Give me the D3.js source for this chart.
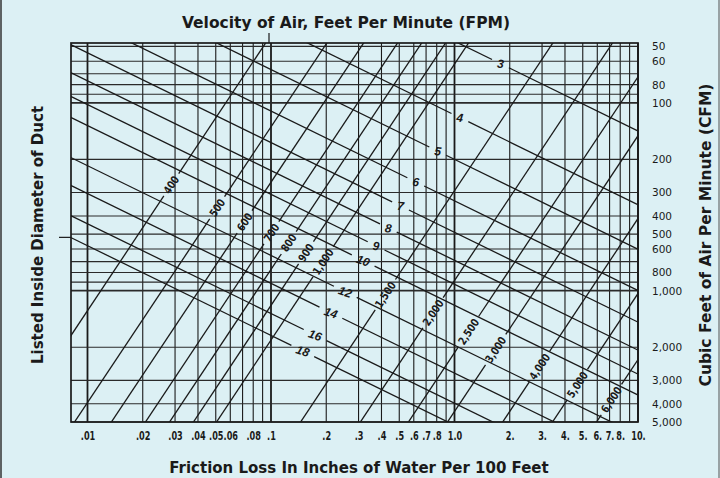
<!DOCTYPE html>
<html>
<head>
<meta charset="utf-8">
<script src="https://cdn.jsdelivr.net/npm/d3@7"></script>
<style>
  body { margin: 0; background: #dcf0f4; }
  svg { display: block; }
</style>
</head>
<body>
<svg id="chart" width="720" height="478"></svg>
<script>
// friction loss (in. of water / 100 ft) along x, airflow (CFM) along y, both log
let frictionGrid = [0.01, 0.02, 0.03, 0.04, 0.05, 0.06, 0.07, 0.08, 0.09,
                    0.1, 0.2, 0.3, 0.4, 0.5, 0.6, 0.7, 0.8, 0.9,
                    1, 2, 3, 4, 5, 6, 7, 8, 9, 10];
let frictionLabelValues = [0.01, 0.02, 0.03, 0.04, 0.05, 0.06, 0.08, 0.1, 0.2, 0.3,
                           0.4, 0.5, 0.6, 0.7, 0.8, 1, 2, 3, 4, 5, 6, 7, 8, 10];
let frictionLabelText = [".01", ".02", ".03", ".04", ".05", ".06", ".08", ".1", ".2", ".3",
                         ".4", ".5", ".6", ".7", ".8", "1.0", "2.", "3.", "4.", "5.", "6.", "7.", "8.", "10."];

let cfmGrid = [50, 60, 70, 80, 90, 100, 200, 300, 400, 500, 600, 700, 800, 900, 1000,
               2000, 3000, 4000, 5000];
let cfmLabelValues = [50, 60, 80, 100, 200, 300, 400, 500, 600, 800, 1000, 2000, 3000, 4000, 5000];

// duct diameter lines: CFM read where each crosses friction .01 and 10.
let ductDiameters = [3, 4, 5, 6, 7, 8, 9, 10, 12, 14, 16, 18];
let ductCfmAtLow  = [5.2, 12.8, 22.1, 36.8, 54.1, 76.3, 102, 132, 216, 304, 440, 576];
let ductCfmAtHigh = [141, 349, 601, 998, 1470, 2071, 2780, 3595, 5862, 8264, 11934, 15631];
let ductLabelFriction = [1.78, 1.07, 0.81, 0.615, 0.508, 0.436, 0.374, 0.318, 0.254, 0.212, 0.174, 0.149];

// velocity lines (FPM): friction read where each crosses 5,000 and 50 CFM
let velocities = [400, 500, 600, 700, 800, 900, 1000, 1500, 2000, 2500, 3000, 4000, 5000, 6000];
let velFrictionAt5000 = [0.00395, 0.0085, 0.0135, 0.0207, 0.028, 0.0378, 0.0505,
                         0.145, 0.307, 0.561, 0.916, 1.83, 3.42, 5.94];
let velFrictionAt50 = [0.0909, 0.196, 0.311, 0.476, 0.644, 0.869, 1.16,
                       3.34, 7.06, 12.9, 21.1, 42.1, 78.7, 137];
let velLabelCfm = [273, 362, 430, 491, 556, 628, 701, 1050, 1310, 1653, 2060, 2537, 3162, 3800];

let ink = "#1a1a1a";
let svg = d3.select("#chart");

let x = d3.scaleLog().domain([0.00813, 10]).range([71, 638]);
let y = d3.scaleLog().domain([48, 5000]).range([43, 422]);
let [x0, x1] = x.range(), [y0, y1] = y.range();

svg.append("rect").attr("width", 720).attr("height", 478).attr("fill", "#dcf0f4");

// edges of the scanned page
svg.append("line").attr("x1", 1).attr("x2", 1).attr("y1", 0).attr("y2", 478)
    .attr("stroke", "#333").attr("stroke-width", 1.5);
svg.append("line").attr("x1", 719).attr("x2", 719).attr("y1", 0).attr("y2", 478)
    .attr("stroke", "#555").attr("stroke-width", 1);

svg.append("defs").append("clipPath").attr("id", "plot")
    .append("rect").attr("x", x0).attr("y", y0).attr("width", x1 - x0).attr("height", y1 - y0);

function isDecade(d) {
    let l = Math.log10(d);
    return Math.abs(l - Math.round(l)) < 1e-6;
}

// grid
let grid = svg.append("g");
grid.selectAll(".vg").data(frictionGrid).join("line")
    .attr("x1", d => x(d)).attr("x2", d => x(d))
    .attr("y1", y0).attr("y2", y1)
    .attr("stroke", ink)
    .attr("stroke-width", d => isDecade(d) ? 1.8 : 1.1);

grid.selectAll(".hg").data(cfmGrid).join("line")
    .attr("x1", x0).attr("x2", x1)
    .attr("y1", d => y(d)).attr("y2", d => y(d))
    .attr("stroke", "#2a2a2a")
    .attr("stroke-width", d => (d === 100 || d === 1000) ? 1.8 : 1.1);

svg.append("rect")
    .attr("x", x0).attr("y", y0).attr("width", x1 - x0).attr("height", y1 - y0)
    .attr("fill", "none").attr("stroke", ink).attr("stroke-width", 1.7);

// small leader marks at the title and left side
svg.append("line").attr("x1", x(0.1) - 2).attr("x2", x(0.1) - 2).attr("y1", y0 - 10).attr("y2", y0)
    .attr("stroke", ink).attr("stroke-width", 1.2);
svg.append("line").attr("x1", x0 - 12).attr("x2", x0).attr("y1", y(520)).attr("y2", y(520))
    .attr("stroke", ink).attr("stroke-width", 1.2);

let diag = svg.append("g").attr("clip-path", "url(#plot)");
let labels = svg.append("g");

// draws an extended straight line through p0,p1 with a gap around the label point
function gappedLine(p0, p1, pl, half) {
    let dx = p1[0] - p0[0], dy = p1[1] - p0[1], L = Math.hypot(dx, dy);
    let ux = dx / L, uy = dy / L;
    let a = [p0[0] - ux * 2000, p0[1] - uy * 2000];
    let b = [p1[0] + ux * 2000, p1[1] + uy * 2000];
    let g1 = [pl[0] - ux * half, pl[1] - uy * half];
    let g2 = [pl[0] + ux * half, pl[1] + uy * half];
    [[a, g1], [g2, b]].forEach(s => {
        diag.append("line")
            .attr("x1", s[0][0]).attr("y1", s[0][1])
            .attr("x2", s[1][0]).attr("y2", s[1][1])
            .attr("stroke", ink).attr("stroke-width", 1.3);
    });
}

ductDiameters.forEach((d, i) => {
    let p0 = [x(0.01), y(ductCfmAtLow[i])];
    let p1 = [x(10), y(ductCfmAtHigh[i])];
    let lx = x(ductLabelFriction[i]);
    let ly = p0[1] + (p1[1] - p0[1]) * (lx - p0[0]) / (p1[0] - p0[0]);
    let ang = Math.atan2(p1[1] - p0[1], p1[0] - p0[0]) * 180 / Math.PI;
    let rot = String(d).length > 1 ? ang * 0.7 : ang * 0.25;
    let t = labels.append("text")
        .text(d)
        .attr("transform", "translate(" + lx + "," + ly + ") rotate(" + rot + ")")
        .attr("text-anchor", "middle")
        .attr("dy", "0.36em")
        .attr("font-family", "Liberation Sans, Arial, sans-serif")
        .attr("font-style", "italic")
        .attr("font-weight", "bold")
        .attr("font-size", "12px")
        .attr("fill", ink);
    gappedLine(p0, p1, [lx, ly], t.node().getComputedTextLength() / 2 + 6);
});

velocities.forEach((v, i) => {
    let p0 = [x(velFrictionAt5000[i]), y(5000)];
    let p1 = [x(velFrictionAt50[i]), y(50)];
    let ly = y(velLabelCfm[i]);
    let lx = p0[0] + (p1[0] - p0[0]) * (ly - p0[1]) / (p1[1] - p0[1]);
    let ang = Math.atan2(p1[1] - p0[1], p1[0] - p0[0]) * 180 / Math.PI;
    let t = labels.append("text")
        .text(d3.format(",")(v))
        .attr("transform", "translate(" + lx + "," + ly + ") rotate(" + ang + ") scale(0.82,1)")
        .attr("text-anchor", "middle")
        .attr("dy", "0.36em")
        .attr("font-family", "DejaVu Sans, sans-serif")
        .attr("font-size", "11px")
        .attr("font-weight", "bold")
        .attr("fill", ink);
    gappedLine(p0, p1, [lx, ly], t.node().getComputedTextLength() * 0.82 / 2 + 4);
});

// axes (labels only)
let bottomAxis = d3.axisBottom(x)
    .tickValues(frictionLabelValues)
    .tickFormat((d, i) => frictionLabelText[i])
    .tickSize(0).tickPadding(9);
let gb = svg.append("g").attr("transform", "translate(0," + y1 + ")").call(bottomAxis);
gb.select(".domain").remove();
gb.selectAll("text")
    .attr("font-family", "DejaVu Sans, sans-serif")
    .attr("transform", "scale(0.68,1)")
    .attr("font-size", "12px").attr("font-weight", "bold").attr("fill", ink);

let rightAxis = d3.axisRight(y)
    .tickValues(cfmLabelValues)
    .tickFormat(d3.format(","))
    .tickSize(0).tickPadding(14);
let gr = svg.append("g").attr("transform", "translate(" + x1 + ",0)").call(rightAxis);
gr.select(".domain").remove();
gr.selectAll("text")
    .attr("font-family", "DejaVu Sans, sans-serif")
    .attr("font-size", "10.5px").attr("fill", ink);

// titles
let titleFont = "DejaVu Sans, sans-serif";
svg.append("text")
    .text("Velocity of Air, Feet Per Minute (FPM)")
    .attr("x", 346).attr("y", 28)
    .attr("text-anchor", "middle")
    .attr("font-family", titleFont).attr("font-weight", "bold")
    .attr("font-size", "15.5px").attr("fill", ink);

svg.append("text")
    .text("Friction Loss In Inches of Water Per 100 Feet")
    .attr("x", 359).attr("y", 473)
    .attr("text-anchor", "middle")
    .attr("font-family", titleFont).attr("font-weight", "bold")
    .attr("font-size", "15px").attr("fill", ink);

svg.append("text")
    .text("Listed Inside Diameter of Duct")
    .attr("transform", "translate(43,235) rotate(-90)")
    .attr("text-anchor", "middle")
    .attr("font-family", titleFont).attr("font-weight", "bold")
    .attr("font-size", "15px").attr("fill", ink);

svg.append("text")
    .text("Cubic Feet of Air Per Minute (CFM)")
    .attr("transform", "translate(711,235) rotate(-90)")
    .attr("text-anchor", "middle")
    .attr("font-family", titleFont).attr("font-weight", "bold")
    .attr("font-size", "15.5px").attr("fill", ink);
</script>
</body>
</html>
